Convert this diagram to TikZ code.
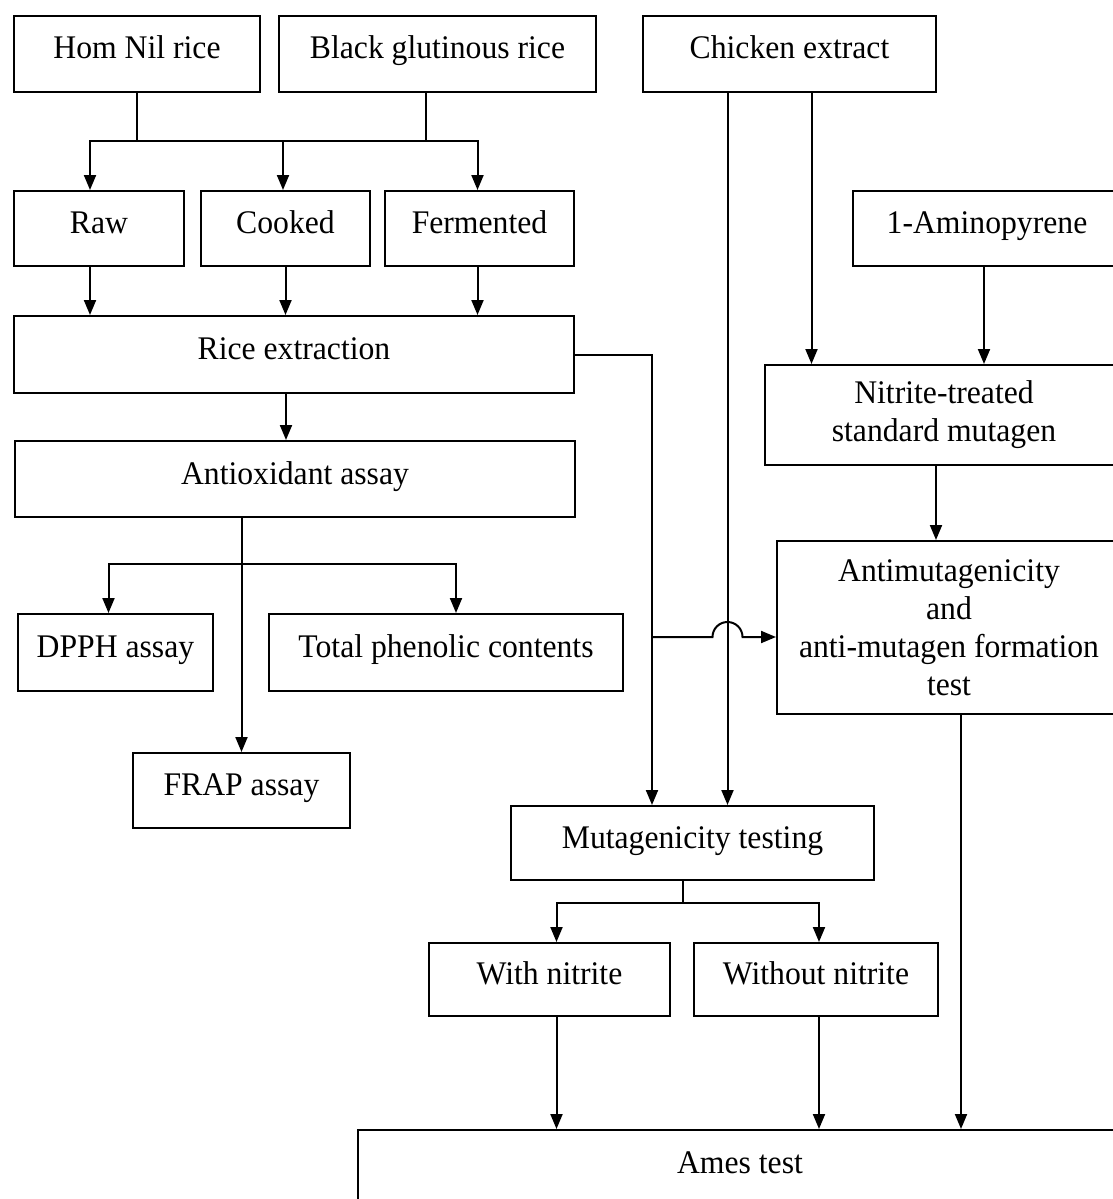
\documentclass[tikz,border=0pt]{standalone}
\usepackage{fontspec}
\setmainfont{Liberation Serif}[FakeStretch=0.96]
\usetikzlibrary{positioning, arrows.meta}

\begin{document}
\begin{tikzpicture}[x=1pt, y=-1pt, line width=2pt,
    font=\fontsize{33}{38}\selectfont, >={Triangle[length=15pt, width=12pt]}]
    % Define styles
    \tikzstyle{block} = [rectangle, draw, anchor=north west, inner sep=0pt,
        text height=23pt, text depth=13pt]
    \tikzstyle{tallblock} = [rectangle, draw, anchor=north west, inner sep=0pt,
        align=center]
    \tikzstyle{line} = [draw, ->]

    \useasboundingbox (0,0) rectangle (1113,1199);

    % Place nodes
    \node [block, minimum width=246pt, minimum height=76pt] (homnil) at (13,15) {Hom Nil rice};
    \node [block, minimum width=317pt, minimum height=76pt] (black) at (278,15) {Black glutinous rice};
    \node [block, minimum width=293pt, minimum height=76pt] (chicken) at (642,15) {Chicken extract};

    \node [block, minimum width=170pt, minimum height=75pt] (raw) at (13,190) {Raw};
    \node [block, minimum width=169pt, minimum height=75pt] (cooked) at (200,190) {Cooked};
    \node [block, minimum width=189pt, minimum height=75pt] (fermented) at (384,190) {Fermented};
    \node [block, minimum width=268pt, minimum height=75pt] (amino) at (852,190) {1-Aminopyrene};

    \node [block, minimum width=560pt, minimum height=77pt] (riceext) at (13,315) {Rice extraction};
    \node [tallblock, minimum width=358pt, minimum height=100pt] (nitrite) at (764,364)
        {Nitrite-treated\\standard mutagen};
    \node [block, minimum width=560pt, minimum height=76pt] (antiox) at (14,440) {Antioxidant assay};
    \node [tallblock, minimum width=344pt, minimum height=173pt] (antimut) at (776,540)
        {Antimutagenicity\\and\\anti-mutagen formation\\test};

    \node [block, minimum width=195pt, minimum height=77pt] (dpph) at (17,613) {DPPH assay};
    \node [block, minimum width=354pt, minimum height=77pt] (tpc) at (268,613) {Total phenolic contents};
    \node [block, minimum width=217pt, minimum height=75pt] (frap) at (132,752) {FRAP assay};

    \node [block, minimum width=363pt, minimum height=74pt] (mutagen) at (510,805) {Mutagenicity testing};
    \node [block, minimum width=241pt, minimum height=73pt] (withn) at (428,942) {With nitrite};
    \node [block, minimum width=244pt, minimum height=73pt] (withoutn) at (693,942) {Without nitrite};

    % Ames box runs off the page
    \node [block, minimum width=764pt, inner ysep=20pt, text depth=60pt] (ames) at (357,1129) {Ames test};

    % Split points
    \coordinate (ricesplit) at (283,141);
    \coordinate (assaysplit) at (240,564);
    \coordinate (ricejoin) at (652,637);
    \coordinate (mutsplit) at (683,903);

    % Draw edges
    \draw (homnil.south) |- (ricesplit);
    \draw ([xshift=-12pt]black.south) |- (ricesplit);
    \path [line] (ricesplit) -| ([xshift=-9pt]raw.north);
    \path [line] (ricesplit) -- (ricesplit |- cooked.north);
    \path [line] (ricesplit) -| ([xshift=-2pt]fermented.north);

    \path [line] ([xshift=-9pt]raw.south) -- ([xshift=-9pt]raw.south |- riceext.north);
    \path [line] (cooked.south) -- (cooked.south |- riceext.north);
    \path [line] ([xshift=-2pt]fermented.south) -- ([xshift=-2pt]fermented.south |- riceext.north);

    \path [line] ([xshift=-8pt]riceext.south) -- ([xshift=-8pt]riceext.south |- antiox.north);
    \path [line] (frap.north |- antiox.south) -- (frap.north);
    \path [line] (assaysplit) -| ([xshift=-7pt]dpph.north);
    \path [line] (assaysplit) -| ([xshift=10pt]tpc.north);

    \path [line] (riceext.east) -| (ricejoin) -- (ricejoin |- mutagen.north);
    \path [line] (ricejoin) -- ([xshift=-77pt]chicken.south |- ricejoin)
        arc [start angle=180, end angle=0, radius=15pt] -- (antimut.west |- ricejoin);

    \path [line] ([xshift=-62pt]chicken.south) -- ([xshift=-62pt]chicken.south |- mutagen.north);
    \path [line] ([xshift=22pt]chicken.south) -- ([xshift=22pt]chicken.south |- nitrite.north);
    \path [line] ([xshift=-3pt]amino.south) -- ([xshift=-3pt]amino.south |- nitrite.north);
    \path [line] ([xshift=-8pt]nitrite.south) -- ([xshift=-8pt]nitrite.south |- antimut.north);
    \path [line] ([xshift=12pt]antimut.south) -- ([xshift=12pt]antimut.south |- ames.north);

    \draw (mutsplit |- mutagen.south) -- (mutsplit);
    \path [line] (mutsplit) -| ([xshift=7pt]withn.north);
    \path [line] (mutsplit) -| ([xshift=3pt]withoutn.north);
    \path [line] ([xshift=7pt]withn.south) -- ([xshift=7pt]withn.south |- ames.north);
    \path [line] ([xshift=3pt]withoutn.south) -- ([xshift=3pt]withoutn.south |- ames.north);
\end{tikzpicture}
\end{document}
